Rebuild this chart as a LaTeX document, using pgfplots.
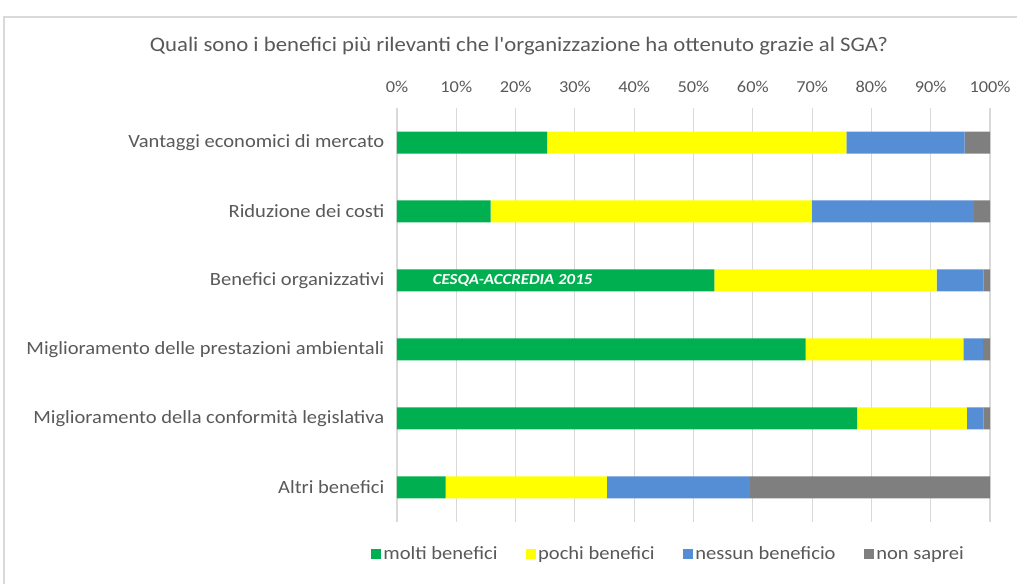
\documentclass[border=0pt]{standalone}
\usepackage{pgfplots}
\pgfplotsset{compat=1.18}
\usepackage{fontspec}
\setmainfont{Carlito}[Ligatures=TeXOff, FakeStretch=1.1]
\definecolor{cGreen}{HTML}{00B050}
\definecolor{cYellow}{HTML}{FFFF00}
\definecolor{cBlue}{HTML}{558ED5}
\definecolor{cGray}{HTML}{7F7F7F}
\definecolor{gridgray}{HTML}{D9D9D9}
\definecolor{textgray}{HTML}{595959}
\begin{document}
\begin{tikzpicture}
\begin{axis}[
  at={(0,0)}, anchor=south west,
  scale only axis,
  width=444.75pt, height=310.5pt,
  xbar stacked, bar width=16.5pt,
  xmin=0, xmax=100, ymin=-0.5, ymax=5.5,
  xtick={0,10,...,100},
  xticklabel={\pgfmathprintnumber{\tick}\%},
  xticklabel pos=upper,
  ytick={0,1,2,3,4,5},
  yticklabels={Altri benefici, Miglioramento della conformità legislativa, Miglioramento delle prestazioni ambientali, Benefici organizzativi, Riduzione dei costi, Vantaggi economici di mercato},
  major tick length=0pt,
  axis line style={draw=none},
  xmajorgrids,
  grid style={draw=gridgray, line width=0.9pt},
  /pgf/number format/assume math mode=true,
  tick label style={text=textgray},
  xticklabel style={font=\fontsize{12.5}{14}\selectfont, yshift=8pt},
  yticklabel style={font=\fontsize{14}{16}\selectfont, xshift=-6pt},
  legend style={at={(0.458,-0.077)}, anchor=center, draw=none,
    font=\fontsize{14}{16}\selectfont, text=textgray,
    /tikz/every even column/.append style={column sep=19pt}},
  legend columns=4,
  legend image code/.code={\fill[#1] (0pt,-3.5pt) rectangle (7.5pt,4pt);},
]
\addplot[fill=cGreen, draw=none] coordinates {(8.2,0) (77.6,1) (68.9,2) (53.5,3) (15.8,4) (25.3,5)};
\addplot[fill=cYellow, draw=none] coordinates {(27.2,0) (18.5,1) (26.6,2) (37.5,3) (54.1,4) (50.5,5)};
\addplot[fill=cBlue, draw=none] coordinates {(24.1,0) (2.8,1) (3.3,2) (7.9,3) (27.4,4) (19.9,5)};
\addplot[fill=cGray, draw=none] coordinates {(40.5,0) (1.1,1) (1.2,2) (1.1,3) (2.7,4) (4.3,5)};
\legend{molti benefici, pochi benefici, nessun beneficio, non saprei}
\coordinate (wm) at (axis cs:19.5,3);
\end{axis}
\node[text=white, font=\bfseries\itshape\fontsize{11.5}{13}\selectfont] at (wm) {CESQA-ACCREDIA 2015};
\begin{scope}[x=0.75pt, y=0.75pt]
\node[text=textgray, font=\fontsize{15.5}{18}\selectfont] at (122,476) {Quali sono i benefici più rilevanti che l'organizzazione ha ottenuto grazie al SGA?};
\draw[gridgray, line width=1.2pt] (-393,-80) -- (-393,505) -- (700,505);
\pgfresetboundingbox
\useasboundingbox (-397,-62) rectangle (620,522);
\end{scope}
\end{tikzpicture}
\end{document}
